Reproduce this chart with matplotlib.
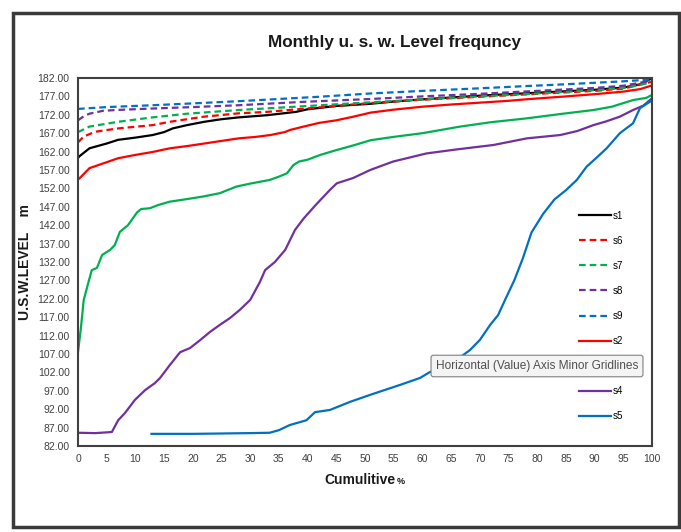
import matplotlib.pyplot as plt
from matplotlib.patches import Rectangle

plt.rcParams['font.family'] = ['Liberation Sans', 'DejaVu Sans']

# data (x = cumulative %, y = level m)
s1_x = [0, 0.3, 2, 5, 7, 10, 13, 15, 16.5, 19, 22, 25, 28, 33, 38, 40, 45, 51, 55, 60, 65, 70, 75, 80, 85, 90, 95, 98, 100]
s1_y = [160.3, 160.8, 162.9, 164.2, 165.2, 165.8, 166.5, 167.3, 168.3, 169.2, 170.1, 170.8, 171.3, 171.9, 172.8, 173.5, 174.4, 175.0, 175.6, 176.2, 176.7, 177.2, 177.6, 178.0, 178.4, 178.8, 179.4, 180.3, 182.0]

s6_x = [0, 1, 3, 7, 13, 16, 22, 28, 33, 39, 45, 51, 60, 70, 80, 90, 95, 100]
s6_y = [164.5, 166.1, 167.4, 168.3, 169.2, 170.1, 171.5, 172.4, 172.8, 173.6, 174.4, 175.2, 176.1, 176.9, 177.7, 178.5, 179.1, 181.0]

s7_x = [0, 2, 7, 13, 19, 28, 39, 51, 60, 70, 80, 90, 95, 100]
s7_y = [167.3, 168.8, 170.1, 171.3, 172.3, 173.3, 174.3, 175.4, 176.2, 177.0, 177.8, 178.7, 179.3, 180.8]

s8_x = [0, 1, 2, 4.4, 8, 13, 20, 28, 39, 51, 60, 70, 80, 90, 95, 100]
s8_y = [170.5, 171.6, 172.3, 173.1, 173.4, 173.7, 174.1, 174.6, 175.5, 176.3, 177.0, 177.7, 178.5, 179.3, 179.9, 181.3]

s9_x = [0, 5, 13, 20, 28, 35, 42, 51, 60, 70, 78, 85, 90, 95, 100]
s9_y = [173.6, 174.1, 174.6, 175.1, 175.7, 176.3, 176.9, 177.8, 178.5, 179.2, 179.8, 180.3, 180.7, 181.1, 181.6]

s2_x = [0, 0.3, 2, 4.4, 7, 10, 13, 16, 19, 22, 25, 28, 31, 33.5, 36, 37, 39.3, 42, 45, 48, 51, 55, 60, 65, 70, 75, 78, 85, 90, 95, 98, 100]
s2_y = [154.4, 154.8, 157.5, 158.8, 160.2, 161.1, 161.9, 162.9, 163.5, 164.2, 164.9, 165.6, 166.0, 166.5, 167.3, 167.9, 168.8, 169.8, 170.5, 171.5, 172.6, 173.4, 174.2, 174.8, 175.3, 175.8, 176.2, 177.0, 177.6, 178.3, 179.0, 180.0]

s3_x = [0, 0.5, 1, 1.7, 2.4, 3.3, 4.2, 5.6, 6.4, 7.3, 8.7, 10.3, 11, 12.5, 14, 16, 19, 21.8, 24.7, 27.6, 30, 33.4, 35, 36.4, 37.5, 38.5, 40, 42.2, 45, 48, 51, 55, 60, 66.6, 72, 78, 84, 89.8, 93, 96.7, 99, 100]
s3_y = [107.5, 114.0, 121.7, 125.8, 129.8, 130.4, 133.9, 135.3, 136.6, 140.2, 142.0, 145.5, 146.4, 146.6, 147.5, 148.4, 149.1, 149.8, 150.7, 152.5, 153.3, 154.3, 155.2, 156.1, 158.3, 159.3, 159.8, 161.1, 162.4, 163.7, 165.1, 166.0, 167.0, 168.8, 170.0, 171.0, 172.2, 173.3, 174.2, 176.0, 176.6, 177.4]

s4_x = [0, 3, 5.9, 7, 8.2, 9.9, 11.7, 13.4, 14.3, 16, 17.8, 19.5, 21.3, 23, 24.7, 26.5, 28.2, 30, 31.7, 32.6, 34.3, 36.1, 37.8, 39.3, 41.3, 42.2, 43.9, 45.1, 47.9, 50.9, 54.9, 60.7, 66, 72.4, 78.2, 84, 87, 89.8, 92, 94.4, 96.7, 98.5, 100]
s4_y = [85.6, 85.5, 85.8, 89.0, 91.0, 94.5, 97.2, 99.1, 100.5, 104.0, 107.5, 108.6, 110.8, 113.0, 114.9, 116.8, 119.0, 121.7, 126.6, 129.8, 132.0, 135.3, 140.7, 143.8, 147.3, 148.8, 151.6, 153.4, 154.8, 157.0, 159.3, 161.5, 162.6, 163.8, 165.6, 166.5, 167.6, 169.2, 170.2, 171.5, 173.3, 174.5, 176.5]

s5_x = [12.8, 20, 25, 30, 33.4, 35, 36.9, 39.8, 41.3, 43.9, 47.4, 50.9, 56.1, 59.6, 61.3, 64.8, 68.3, 70, 71.8, 73.2, 74.4, 76, 77.5, 79, 81, 83, 85, 86.9, 88.6, 90.1, 92.1, 94.4, 96.7, 97.9, 99.7, 100]
s5_y = [85.3, 85.3, 85.4, 85.5, 85.6, 86.3, 87.7, 89.0, 91.2, 91.8, 94.0, 95.9, 98.6, 100.5, 102.1, 104.0, 108.1, 110.8, 114.9, 117.6, 121.7, 127.0, 133.0, 140.0, 145.0, 149.0, 151.5, 154.3, 157.9, 160.0, 162.9, 167.0, 169.7, 173.8, 175.6, 176.5]

x_ticks = list(range(0, 101, 5))
y_ticks = [82 + 5 * i for i in range(21)]

blue = '#0070c0'
red = '#ff0000'
green = '#00b050'
purple = '#7030a0'
dash = (0, (3, 1.8))

fig = plt.figure(figsize=(6.81, 5.32), dpi=100)
# outer chart frame
fig.patches.append(Rectangle((13 / 681, 5 / 532), 666 / 681, 514 / 532, transform=fig.transFigure,
                             fill=False, edgecolor='#3a3a3a', linewidth=2.5))

ax = fig.add_axes([78 / 681, 86 / 532, 574 / 681, 368 / 532])

ax.plot(s1_x, s1_y, color='black', lw=1.6, label='s1')
ax.plot(s6_x, s6_y, color=red, lw=1.6, ls=dash, label='s6')
ax.plot(s7_x, s7_y, color=green, lw=1.6, ls=dash, label='s7')
ax.plot(s8_x, s8_y, color=purple, lw=1.6, ls=dash, label='s8')
ax.plot(s9_x, s9_y, color=blue, lw=1.6, ls=dash, label='s9')
ax.plot(s2_x, s2_y, color=red, lw=1.6, label='s2')
ax.plot(s3_x, s3_y, color=green, lw=1.6, label='s3')
ax.plot(s4_x, s4_y, color=purple, lw=1.6, label='s4')
ax.plot(s5_x, s5_y, color=blue, lw=1.6, label='s5')

ax.set_xlim(0, 100)
ax.set_ylim(82, 182)
ax.set_xticks(x_ticks)
ax.set_yticks(y_ticks)
ax.set_yticklabels(['%.2f' % v for v in y_ticks])
ax.tick_params(length=0, labelsize=7.5, colors='#404040', pad=6)
for sp in ax.spines.values():
    sp.set_color('#404040')
    sp.set_linewidth(1.5)

leg = ax.legend(loc='upper right', bbox_to_anchor=(0.962, 0.658), frameon=False, fontsize=7,
                handlelength=3.3, handletextpad=0.15, labelspacing=1.55, borderaxespad=0.3)
# the s3 entry sits under the tooltip in the screenshot
leg.get_texts()[6].set_visible(False)
leg.get_lines()[6].set_visible(False)

fig.text(395 / 681, 1 - 42 / 532, 'Monthly u. s. w. Level frequncy', ha='center', va='center',
         fontsize=12.3, fontweight='bold', color='#1a1a1a')
fig.text(25 / 681, 1 - 262 / 532, 'U.S.W.LEVEL    m', ha='center', va='center', rotation=90,
         fontsize=10, fontweight='bold', color='#1a1a1a')
fig.text(360 / 681, 1 - 480 / 532, 'Cumulitive', ha='center', va='center',
         fontsize=10, fontweight='bold', color='#1a1a1a')
fig.text(397 / 681, 1 - 481 / 532, '%', ha='left', va='center',
         fontsize=6.5, fontweight='bold', color='#1a1a1a')

# tooltip shown in the screenshot
fig.text(537 / 681, 1 - 366 / 532, 'Horizontal (Value) Axis Minor Gridlines', ha='center', va='center',
         fontsize=8.6, color='#505050', zorder=10,
         bbox=dict(boxstyle='round,pad=0.4,rounding_size=0.2', facecolor='#f4f4f4',
                   edgecolor='#808080', linewidth=0.8))

fig.savefig('out.png', dpi=100)
